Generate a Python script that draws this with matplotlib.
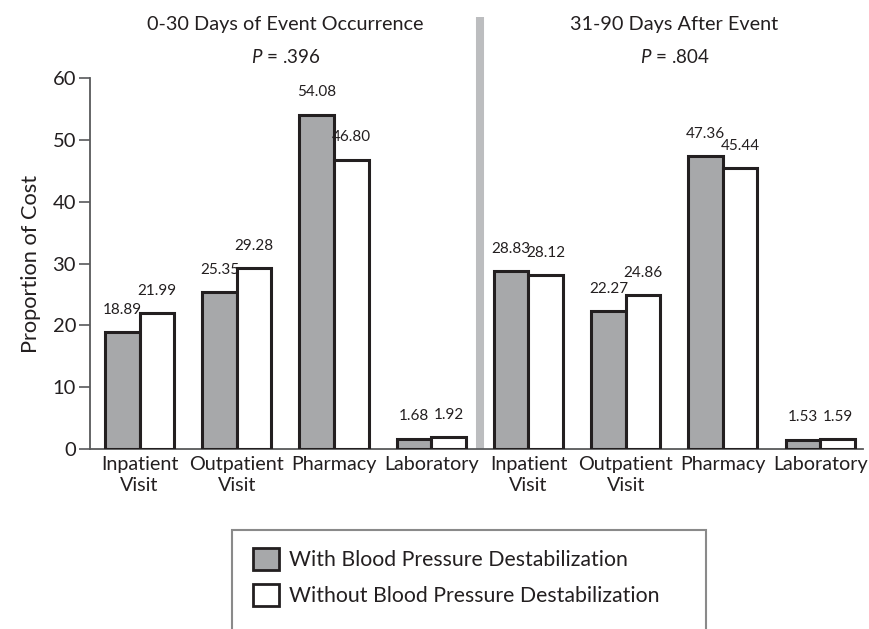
import numpy as np
import matplotlib
matplotlib.use('Agg')
import matplotlib.pyplot as plt
from matplotlib.patches import Rectangle, Patch

plt.rcParams['font.family'] = ['Lato', 'DejaVu Sans']
plt.rcParams['mathtext.fontset'] = 'custom'
plt.rcParams['mathtext.it'] = 'Lato:italic'
plt.rcParams['mathtext.rm'] = 'Lato'

categories = ['Inpatient\nVisit', 'Outpatient\nVisit', 'Pharmacy', 'Laboratory',
              'Inpatient\nVisit', 'Outpatient\nVisit', 'Pharmacy', 'Laboratory']
with_bp = [18.89, 25.35, 54.08, 1.68, 28.83, 22.27, 47.36, 1.53]
without_bp = [21.99, 29.28, 46.80, 1.92, 28.12, 24.86, 45.44, 1.59]
with_labels = ['18.89', '25.35', '54.08', '1.68', '28.83', '22.27', '47.36', '1.53']
without_labels = ['21.99', '29.28', '46.80', '1.92', '28.12', '24.86', '45.44', '1.59']
group_titles = ['0-30 Days of Event Occurrence', '31-90 Days After Event']
p_values = ['.396', '.804']

txt = '#231f20'
gray = '#a7a8aa'
edge = '#231f20'

fig = plt.figure(figsize=(8.7, 6.29), dpi=100)
ax = fig.add_axes([0.1034, 0.286, 0.8885, 0.590])

x = np.arange(len(categories))
w = 0.355
b1 = ax.bar(x - w, with_bp, w, align='edge', color=gray, edgecolor=edge, linewidth=2.2, zorder=3)
b2 = ax.bar(x, without_bp, w, align='edge', color='white', edgecolor=edge, linewidth=2.2, zorder=3)

for xi, v, lab in zip(x, with_bp, with_labels):
    ax.annotate(lab, (xi - w / 2, v), xytext=(0, 11), textcoords='offset points',
                ha='center', va='bottom', fontsize=11, color=txt)
for xi, v, lab in zip(x, without_bp, without_labels):
    ax.annotate(lab, (xi + w / 2, v), xytext=(0, 11), textcoords='offset points',
                ha='center', va='bottom', fontsize=11, color=txt)

# separator between the two periods
ax.plot([3.5, 3.5], [0, 69.8], color='#bcbdbf', linewidth=5.8, clip_on=False, zorder=2,
        solid_capstyle='butt')

for i, (t, p) in enumerate(zip(group_titles, p_values)):
    cx = 1.5 + 4 * i
    ax.text(cx, 68.6, t, ha='center', va='center', fontsize=14.3, color=txt, clip_on=False)
    ax.text(cx, 63.4, r'$P$ = ' + p, ha='center', va='center', fontsize=13.5, color=txt,
            clip_on=False)

ax.set_xlim(-0.51, 7.44)
ax.set_ylim(0, 60)
ax.set_yticks(np.arange(0, 61, 10))
ax.set_xticks(x)
ax.set_xticklabels(categories, fontsize=14.2, color=txt, linespacing=1.3)
ax.tick_params(axis='x', length=0, pad=5)
ax.tick_params(axis='y', length=8, width=1.2, color='#58595b', labelsize=14.5,
               labelcolor=txt, pad=2)
for s in ['top', 'right']:
    ax.spines[s].set_visible(False)
for s in ['left', 'bottom']:
    ax.spines[s].set_color('#58595b')
    ax.spines[s].set_linewidth(1.3)
ax.set_ylabel('Proportion of Cost', fontsize=15.7, color=txt, labelpad=8)

# legend box (runs off the bottom edge)
fig.patches.append(Rectangle((0.2667, -0.1), 0.545, 0.2574, transform=fig.transFigure,
                             facecolor='none', edgecolor='#8a8a8a', linewidth=1.5))
handles = [Patch(facecolor=gray, edgecolor=edge, linewidth=2),
           Patch(facecolor='white', edgecolor=edge, linewidth=2)]
fig.legend(handles, ['With Blood Pressure Destabilization',
                     'Without Blood Pressure Destabilization'],
           loc='upper left', bbox_to_anchor=(0.279, 0.145), frameon=False,
           fontsize=15.3, handlelength=1.2, handleheight=1.2, handletextpad=0.5,
           labelspacing=0.65, borderpad=0, labelcolor=txt)

fig.savefig('out.png', dpi=100)
